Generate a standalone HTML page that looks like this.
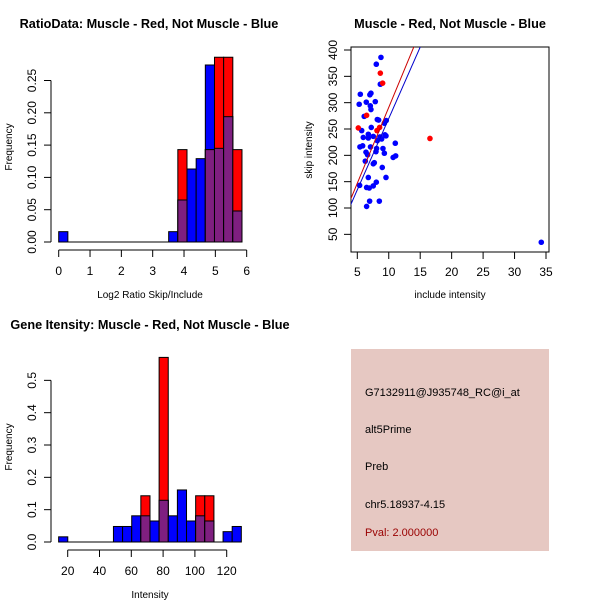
<!DOCTYPE html>
<html><head><meta charset="utf-8"><style>
html,body{margin:0;padding:0;background:#fff;}
svg{display:block;font-family:"Liberation Sans",Arial,sans-serif;}
</style></head><body>
<svg id="c" width="600" height="600" viewBox="0 0 600 600">
<rect x="351" y="349" width="198" height="202" fill="#e6c8c2"/>
<g font-size="11" fill="#000">
<text x="365" y="396">G7132911@J935748_RC@i_at</text>
<text x="365" y="433">alt5Prime</text>
<text x="365" y="470">Preb</text>
<text x="365" y="508">chr5.18937-4.15</text>
<text x="365" y="536" fill="#990000">Pval: 2.000000</text>
</g>
</svg>
<script>
// Ratio histogram data
const ratioBinStart = 0, ratioBinWidth = 0.2925;
const ratioBlue = [0.016,0,0,0,0,0,0,0,0,0,0,0,0.016,0.065,0.113,0.129,0.274,0.145,0.194,0.048];
const ratioRed  = [0,0,0,0,0,0,0,0,0,0,0,0,0,0.143,0,0,0.143,0.286,0.286,0.143];
const ratioXTicks = [0,1,2,3,4,5,6];
const ratioYTicks = ["0.00","0.05","0.10","0.15","0.20","0.25"];
// Intensity histogram data
const intBinStart = 14.3, intBinWidth = 5.745;
const intBlue = [0.016,0,0,0,0,0,0.048,0.048,0.081,0.081,0.065,0.129,0.081,0.161,0.065,0.081,0.065,0,0.032,0.048];
const intRed  = [0,0,0,0,0,0,0,0,0,0.143,0,0.571,0,0,0,0.143,0.143,0,0,0];
const intXTicks = [20,40,60,80,100,120];
const intYTicks = ["0.0","0.1","0.2","0.3","0.4","0.5"];
// Scatter data
const blueX = [8.76,8.02,8.66,5.48,7.17,7.0,5.3,6.43,7.86,7.07,7.17,6.1,8.18,8.39,9.6,5.7,7.22,9.3,6.75,5.95,6.75,7.54,8.6,9.4,9.56,8.87,8.18,5.42,5.85,7.1,8.07,9.08,11.04,7.97,6.38,9.3,6.64,11.1,10.7,6.27,7.7,7.54,8.97,6.75,9.56,8.02,6.48,6.9,7.54,5.37,8.5,6.96,6.48,34.25];
const blueY = [386,373,335,316,318,315,297,301,302,294,287,274,268,267,266,247,253,261,240,234,233,236,235,239,237,231,228,216,218,216,213,213,223,207,206,204,201,199,196,189,186,184,177,158,158,149,139,138,142,143,113,113,103,35];
const redX = [8.66,9.03,6.48,5.16,8.13,8.55,16.55];
const redY = [356,337,276,252,247,253,232];
const fitRed = {intercept:3, slope:28.8};
const fitBlue = {intercept:-1, slope:27.1};
const scXTicks = [5,10,15,20,25,30,35];
const scYTicks = [50,100,150,200,250,300,350,400];

const NS="http://www.w3.org/2000/svg";
const svg=document.getElementById('c');
function mk(tag,attrs,parent){const e=document.createElementNS(NS,tag);for(const k in attrs)e.setAttribute(k,attrs[k]);(parent||svg).appendChild(e);return e;}
function txt(s,x,y,attrs,parent){const t=mk('text',Object.assign({x:x,y:y},attrs||{}),parent);t.textContent=s;return t;}

function hist(cfg){
  const g=mk('g',{});
  
  
  const X=v=>cfg.x0+(v-cfg.xv0)*cfg.xs, Y=v=>cfg.y0-v*cfg.ys;
  for(let i=0;i<cfg.blue.length;i++){
    const a=cfg.binStart+i*cfg.binWidth, b=a+cfg.binWidth;
    const x1=X(a), x2=X(b);
    const bl=cfg.blue[i], rd=cfg.red[i];
    if(bl>0){const r=mk('rect',{x:x1,y:Y(bl),width:x2-x1,height:Y(0)-Y(bl),fill:'#0000ff',stroke:'#000','stroke-width':1},g);
      }
    if(rd>0){const r=mk('rect',{x:x1,y:Y(rd),width:x2-x1,height:Y(0)-Y(rd),fill:'#ff0000',stroke:'#000','stroke-width':1},g);
      }
    const m=Math.min(bl,rd);
    if(m>0){const r=mk('rect',{x:x1,y:Y(m),width:x2-x1,height:Y(0)-Y(m),fill:'#7f1f80',stroke:'#000','stroke-width':1},g);
      }
  }
  const x1=X(cfg.binStart), x2=X(cfg.binStart+cfg.blue.length*cfg.binWidth);
  mk('line',{x1:x1,x2:x2,y1:Y(0),y2:Y(0),stroke:'#000'},g);
  const ax=mk('g',{},g);
  
  const ya=cfg.xAxisY;
  mk('line',{x1:X(cfg.xTicks[0]),x2:X(cfg.xTicks[cfg.xTicks.length-1]),y1:ya,y2:ya,stroke:'#000'},ax);
  cfg.xTicks.forEach(v=>{mk('line',{x1:X(v),x2:X(v),y1:ya,y2:ya+7,stroke:'#000'},ax);
    txt(String(v),X(v),ya+25,{'font-size':12,'text-anchor':'middle'},ax);});
  const ay=mk('g',{},g);
  
  const xa=cfg.yAxisX;
  const vals=cfg.yTicks.map(parseFloat);
  mk('line',{x1:xa,x2:xa,y1:Y(vals[0]),y2:Y(vals[vals.length-1]),stroke:'#000'},ay);
  cfg.yTicks.forEach((s,i)=>{const y=Y(vals[i]);mk('line',{x1:xa,x2:xa-7,y1:y,y2:y,stroke:'#000'},ay);
    const lx=xa-15;
    txt(s,lx,y,{'font-size':12,'text-anchor':'middle',transform:`rotate(-90 ${lx} ${y})`},ay);});
  const t=txt(cfg.title,cfg.titleX,cfg.titleY,{'font-size':12.7,'font-weight':'bold','text-anchor':'middle'},g);
  
  const xl=txt(cfg.xlab,cfg.xlabX,cfg.xlabY,{'font-size':10,'text-anchor':'middle'},g);
  
  const yl=txt('Frequency',12,cfg.ylabY,{'font-size':10,'text-anchor':'middle',transform:`rotate(-90 12 ${cfg.ylabY})`},g);
  
}

hist({name:'ratio-histogram',x0:58.7,xv0:0,xs:31.33,y0:242,ys:646,blue:ratioBlue,red:ratioRed,
  binStart:ratioBinStart,binWidth:ratioBinWidth,xTicks:ratioXTicks,yTicks:ratioYTicks,xAxisY:250,yAxisX:51,
  title:'RatioData: Muscle - Red, Not Muscle - Blue',titleX:149,titleY:28,xlab:'Log2 Ratio Skip/Include',xlabX:150,xlabY:298,ylabY:147});
hist({name:'intensity-histogram',x0:67.7,xv0:20,xs:1.59,y0:542,ys:323.3,blue:intBlue,red:intRed,
  binStart:intBinStart,binWidth:intBinWidth,xTicks:intXTicks,yTicks:intYTicks,xAxisY:550,yAxisX:51,
  title:'Gene Itensity: Muscle - Red, Not Muscle - Blue',titleX:150,titleY:329,xlab:'Intensity',xlabX:150,xlabY:598,ylabY:447});

// Scatter
(function(){
  const g=mk('g',{});
  
  const L=351,R=549,T=47,B=252;
  const X=v=>357.3+(v-5)*6.29, Y=v=>50+(400-v)*0.5267;
  const clip=mk('clipPath',{id:'scclip'},g);mk('rect',{x:L,y:T,width:R-L,height:B-T},clip);
  mk('rect',{x:L,y:T,width:R-L,height:B-T,fill:'none',stroke:'#000'},g);
  const ax=mk('g',{},g);
  scXTicks.forEach(v=>{mk('line',{x1:X(v),x2:X(v),y1:B,y2:B+7,stroke:'#000'},ax);txt(String(v),X(v),B+24,{'font-size':12,'text-anchor':'middle'},ax);});
  const ay=mk('g',{},g);
  scYTicks.forEach(v=>{const y=Y(v);mk('line',{x1:L,x2:L-7,y1:y,y2:y,stroke:'#000'},ay);
    txt(String(v),L-14,y,{'font-size':12,'text-anchor':'middle',transform:`rotate(-90 ${L-14} ${y})`},ay);});
  const pts=mk('g',{'clip-path':'url(#scclip)'},g);
  blueX.forEach((x,i)=>{const c=mk('circle',{cx:X(x),cy:Y(blueY[i]),r:2.8,fill:'#0000ff'},pts);
    });
  redX.forEach((x,i)=>{const c=mk('circle',{cx:X(x),cy:Y(redY[i]),r:2.8,fill:'#ff0000'},pts);
    });
  const xa=3,xb=40;
  const lr=mk('line',{x1:X(xa),y1:Y(fitRed.intercept+fitRed.slope*xa),x2:X(xb),y2:Y(fitRed.intercept+fitRed.slope*xb),stroke:'#cc0000'},pts);
  
  const lb=mk('line',{x1:X(xa),y1:Y(fitBlue.intercept+fitBlue.slope*xa),x2:X(xb),y2:Y(fitBlue.intercept+fitBlue.slope*xb),stroke:'#0000cc'},pts);
  
  const t=txt('Muscle - Red, Not Muscle - Blue',450,28,{'font-size':12.7,'font-weight':'bold','text-anchor':'middle'},g);
  
  const xl=txt('include intensity',450,298,{'font-size':10,'text-anchor':'middle'},g);
  
  const yl=txt('skip intensity',312,150,{'font-size':10,'text-anchor':'middle',transform:'rotate(-90 312 150)'},g);
  
})();
</script>
</body></html>
